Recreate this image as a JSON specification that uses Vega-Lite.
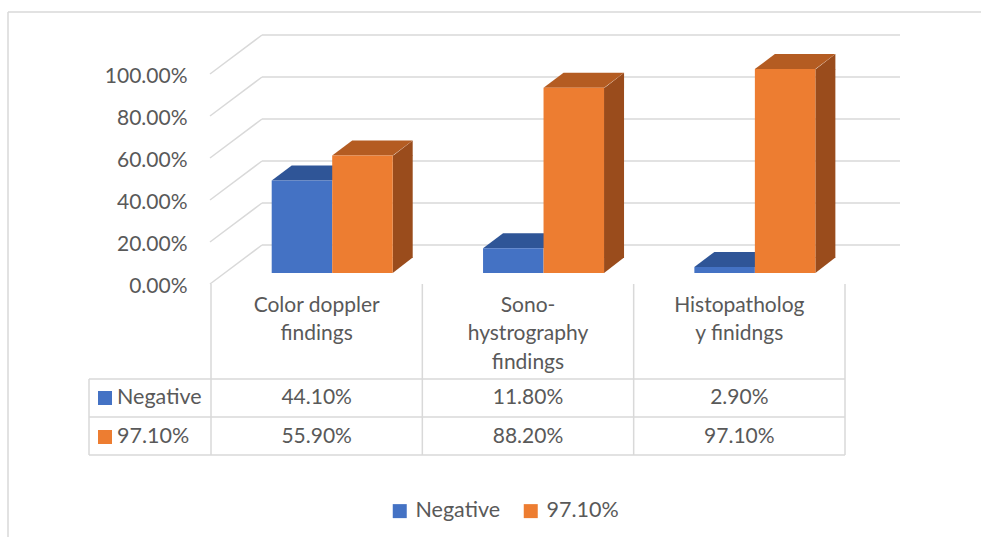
{
  "$schema": "https://vega.github.io/schema/vega-lite/v6.json",
  "autosize": {"type": "none"},
  "width": 634,
  "height": 210,
  "padding": {"left": 211, "top": 63, "right": 136, "bottom": 264},
  "background": "white",
  "config": {"view": {"stroke": null}, "font": "Lato"},
  "datasets": {
    "bars": [
      {"finding": "Color doppler findings", "series": "Negative", "share": 0.441},
      {"finding": "Color doppler findings", "series": "97.10%", "share": 0.559},
      {"finding": "Sono-hystrography findings", "series": "Negative", "share": 0.118},
      {"finding": "Sono-hystrography findings", "series": "97.10%", "share": 0.882},
      {"finding": "Histopathology finidngs", "series": "Negative", "share": 0.029},
      {"finding": "Histopathology finidngs", "series": "97.10%", "share": 0.971}
    ],
    "ticks": [{"tick": 0}, {"tick": 0.2}, {"tick": 0.4}, {"tick": 0.6}, {"tick": 0.8}, {"tick": 1}]
  },
  "data": {"name": "bars"},
  "layer": [
    {
      "data": {"name": "ticks"},
      "transform": [{"filter": "datum.tick == 1"}],
      "mark": {"type": "rule", "color": "#D9D9D9", "strokeWidth": 1.5, "xOffset": -203, "x2Offset": 136, "yOffset": -51},
      "encoding": {
        "x": {"datum": "Color doppler findings", "bandPosition": 0},
        "x2": {"datum": "Histopathology finidngs", "bandPosition": 1},
        "y": {"field": "tick", "type": "quantitative"}
      }
    },
    {
      "data": {"name": "ticks"},
      "transform": [{"filter": "datum.tick == 1"}],
      "mark": {"type": "rule", "color": "#D9D9D9", "strokeWidth": 1.5, "xOffset": -203, "yOffset": -51, "y2Offset": 264},
      "encoding": {
        "x": {"datum": "Color doppler findings", "bandPosition": 0},
        "y": {"field": "tick", "type": "quantitative"},
        "y2": {"datum": 0}
      }
    },
    {
      "data": {"name": "ticks"},
      "mark": {"type": "rule", "color": "#D9D9D9", "strokeWidth": 1.5, "xOffset": 51, "x2Offset": 55, "yOffset": -28},
      "encoding": {
        "x": {"datum": "Color doppler findings", "bandPosition": 0},
        "x2": {"datum": "Histopathology finidngs", "bandPosition": 1},
        "y": {"field": "tick", "type": "quantitative"}
      }
    },
    {
      "data": {"name": "ticks"},
      "mark": {"type": "rule", "color": "#D9D9D9", "strokeWidth": 1.5, "xOffset": -1, "x2Offset": 51, "yOffset": 11, "y2Offset": -28},
      "encoding": {
        "x": {"datum": "Color doppler findings", "bandPosition": 0},
        "x2": {"datum": "Color doppler findings", "bandPosition": 0},
        "y": {"field": "tick", "type": "quantitative"},
        "y2": {"field": "tick"}
      }
    },
    {
      "transform": [{"filter": "datum.series == 'Negative'"}],
      "mark": {"type": "rule", "color": "#D9D9D9", "strokeWidth": 1.5, "yOffset": 11, "y2Offset": 182},
      "encoding": {
        "x": {"field": "finding", "type": "nominal", "bandPosition": 0},
        "y": {"datum": 0},
        "y2": {"datum": 0}
      }
    },
    {
      "data": {"name": "ticks"},
      "transform": [{"filter": "datum.tick == 0"}],
      "mark": {"type": "rule", "color": "#D9D9D9", "strokeWidth": 1.5, "yOffset": 11, "y2Offset": 182},
      "encoding": {
        "x": {"datum": "Histopathology finidngs", "bandPosition": 1},
        "y": {"field": "tick", "type": "quantitative"},
        "y2": {"datum": 0}
      }
    },
    {
      "data": {"name": "ticks"},
      "transform": [{"filter": "datum.tick == 0"}],
      "mark": {"type": "rule", "color": "#D9D9D9", "strokeWidth": 1.5, "xOffset": -122, "yOffset": 106, "y2Offset": 182},
      "encoding": {
        "x": {"datum": "Color doppler findings", "bandPosition": 0},
        "y": {"field": "tick", "type": "quantitative"},
        "y2": {"datum": 0}
      }
    },
    {
      "data": {"name": "ticks"},
      "transform": [{"filter": "datum.tick == 0"}],
      "mark": {"type": "rule", "color": "#D9D9D9", "strokeWidth": 1.5, "xOffset": -122, "yOffset": 106},
      "encoding": {
        "x": {"datum": "Color doppler findings", "bandPosition": 0},
        "x2": {"datum": "Histopathology finidngs", "bandPosition": 1},
        "y": {"field": "tick", "type": "quantitative"}
      }
    },
    {
      "data": {"name": "ticks"},
      "transform": [{"filter": "datum.tick == 0"}],
      "mark": {"type": "rule", "color": "#D9D9D9", "strokeWidth": 1.5, "xOffset": -122, "yOffset": 144},
      "encoding": {
        "x": {"datum": "Color doppler findings", "bandPosition": 0},
        "x2": {"datum": "Histopathology finidngs", "bandPosition": 1},
        "y": {"field": "tick", "type": "quantitative"}
      }
    },
    {
      "data": {"name": "ticks"},
      "transform": [{"filter": "datum.tick == 0"}],
      "mark": {"type": "rule", "color": "#D9D9D9", "strokeWidth": 1.5, "xOffset": -122, "yOffset": 182},
      "encoding": {
        "x": {"datum": "Color doppler findings", "bandPosition": 0},
        "x2": {"datum": "Histopathology finidngs", "bandPosition": 1},
        "y": {"field": "tick", "type": "quantitative"}
      }
    },
    {
      "transform": [{"filter": "datum.series == '97.10%'"}],
      "mark": {"type": "rule", "color": "#9A4C1C", "strokeWidth": 20, "strokeCap": "butt", "y2Offset": -15},
      "encoding": {
        "x": {"field": "finding", "type": "nominal", "bandPosition": 0.9071},
        "y": {"field": "share", "type": "quantitative"},
        "y2": {"datum": 0}
      }
    },
    {
      "transform": [{"filter": "datum.series == '97.10%'"}],
      "mark": {"type": "point", "filled": true, "opacity": 1, "strokeWidth": 0, "size": 4, "color": "#9A4C1C", "shape": "M30.25,0.5L50.25,-15L50.25,0.5Z"},
      "encoding": {
        "x": {"field": "finding", "type": "nominal"},
        "xOffset": {"field": "series", "type": "nominal"},
        "y": {"field": "share", "type": "quantitative"}
      }
    },
    {
      "transform": [{"filter": "datum.series == '97.10%'"}],
      "mark": {"type": "point", "filled": true, "opacity": 1, "strokeWidth": 0, "size": 4, "color": "#9A4C1C", "shape": "M30.25,-15.5L30.25,0L50.25,-15.5Z"},
      "encoding": {
        "x": {"field": "finding", "type": "nominal"},
        "xOffset": {"field": "series", "type": "nominal"},
        "y": {"datum": 0}
      }
    },
    {
      "transform": [{"filter": "datum.series == 'Negative'"}],
      "mark": {"type": "point", "filled": true, "opacity": 1, "strokeWidth": 0, "size": 4, "color": "#2F5597", "shape": "M-30.25,0L30.25,0L50.25,-15L-10.25,-15Z"},
      "encoding": {
        "x": {"field": "finding", "type": "nominal"},
        "xOffset": {"field": "series", "type": "nominal"},
        "y": {"field": "share", "type": "quantitative"}
      }
    },
    {
      "transform": [{"filter": "datum.series == '97.10%'"}],
      "mark": {"type": "point", "filled": true, "opacity": 1, "strokeWidth": 0, "size": 4, "color": "#B45C22", "shape": "M-30.25,0L30.25,0L50.25,-15L-10.25,-15Z"},
      "encoding": {
        "x": {"field": "finding", "type": "nominal"},
        "xOffset": {"field": "series", "type": "nominal"},
        "y": {"field": "share", "type": "quantitative"}
      }
    },
    {
      "mark": {"type": "bar"},
      "encoding": {
        "x": {
          "field": "finding",
          "type": "nominal",
          "sort": ["Color doppler findings", "Sono-hystrography findings", "Histopathology finidngs"],
          "scale": {"domain": ["Color doppler findings", "Sono-hystrography findings", "Histopathology finidngs"], "paddingInner": 0, "paddingOuter": 0},
          "axis": {
            "orient": "bottom",
            "offset": 11,
            "title": null,
            "domain": false,
            "ticks": false,
            "labelAngle": 0,
            "labelAlign": "center",
            "labelPadding": 21,
            "labelFont": "Lato",
            "labelFontSize": 21,
            "labelColor": "#595959",
            "labelLineHeight": 28.5,
            "labelLimit": 400,
            "labelExpr": "datum.value == 'Color doppler findings' ? ['Color doppler', 'findings'] : datum.value == 'Sono-hystrography findings' ? ['Sono-', 'hystrography', 'findings'] : ['Histopatholog', 'y finidngs']"
          }
        },
        "xOffset": {
          "field": "series",
          "type": "nominal",
          "sort": ["Negative", "97.10%"],
          "scale": {"domain": ["Negative", "97.10%"], "paddingInner": 0, "paddingOuter": 0.7466, "align": 0.672}
        },
        "y": {
          "field": "share",
          "type": "quantitative",
          "scale": {"domain": [0, 1], "nice": false},
          "axis": {
            "title": null,
            "domain": false,
            "ticks": false,
            "grid": false,
            "values": [0, 0.2, 0.4, 0.6, 0.8, 1],
            "format": ".2%",
            "labelPadding": 24,
            "labelOffset": 13,
            "labelFont": "Lato",
            "labelFontSize": 21,
            "labelColor": "#595959"
          }
        },
        "color": {
          "field": "series",
          "type": "nominal",
          "scale": {"domain": ["Negative", "97.10%"], "range": ["#4472C4", "#ED7D31"]},
          "legend": {
            "orient": "none",
            "direction": "horizontal",
            "legendX": 178,
            "legendY": 437,
            "title": null,
            "symbolType": "square",
            "symbolSize": 196,
            "symbolStrokeWidth": 0,
            "symbolOpacity": 1,
            "labelFont": "Lato",
            "labelFontSize": 21.5,
            "labelColor": "#595959",
            "labelOffset": 5,
            "columnPadding": 19,
            "padding": 0
          }
        }
      }
    },
    {
      "transform": [{"filter": "datum.series == 'Negative'"}],
      "mark": {"type": "text", "font": "Lato", "fontSize": 21, "color": "#595959", "baseline": "middle", "dy": 125},
      "encoding": {
        "x": {"field": "finding", "type": "nominal"},
        "y": {"datum": 0},
        "text": {"field": "share", "type": "quantitative", "format": ".2%"}
      }
    },
    {
      "transform": [{"filter": "datum.series == '97.10%'"}],
      "mark": {"type": "text", "font": "Lato", "fontSize": 21, "color": "#595959", "baseline": "middle", "dy": 164},
      "encoding": {
        "x": {"field": "finding", "type": "nominal"},
        "y": {"datum": 0},
        "text": {"field": "share", "type": "quantitative", "format": ".2%"}
      }
    },
    {
      "transform": [{"filter": "datum.series == 'Negative' && datum.finding == 'Color doppler findings'"}],
      "mark": {"type": "text", "font": "Lato", "fontSize": 21.5, "color": "#595959", "baseline": "middle", "align": "left", "dx": -94, "dy": 125},
      "encoding": {
        "x": {"field": "finding", "type": "nominal", "bandPosition": 0},
        "y": {"datum": 0},
        "text": {"field": "series"}
      }
    },
    {
      "transform": [{"filter": "datum.series == '97.10%' && datum.finding == 'Color doppler findings'"}],
      "mark": {"type": "text", "font": "Lato", "fontSize": 21.5, "color": "#595959", "baseline": "middle", "align": "left", "dx": -94, "dy": 164},
      "encoding": {
        "x": {"field": "finding", "type": "nominal", "bandPosition": 0},
        "y": {"datum": 0},
        "text": {"field": "series"}
      }
    },
    {
      "transform": [{"filter": "datum.series == 'Negative' && datum.finding == 'Color doppler findings'"}],
      "mark": {"type": "point", "shape": "square", "size": 196, "filled": true, "opacity": 1, "strokeWidth": 0, "color": "#4472C4", "xOffset": -106, "yOffset": 125},
      "encoding": {
        "x": {"field": "finding", "type": "nominal", "bandPosition": 0},
        "y": {"datum": 0}
      }
    },
    {
      "transform": [{"filter": "datum.series == '97.10%' && datum.finding == 'Color doppler findings'"}],
      "mark": {"type": "point", "shape": "square", "size": 196, "filled": true, "opacity": 1, "strokeWidth": 0, "color": "#ED7D31", "xOffset": -106, "yOffset": 164},
      "encoding": {
        "x": {"field": "finding", "type": "nominal", "bandPosition": 0},
        "y": {"datum": 0}
      }
    }
  ]
}
